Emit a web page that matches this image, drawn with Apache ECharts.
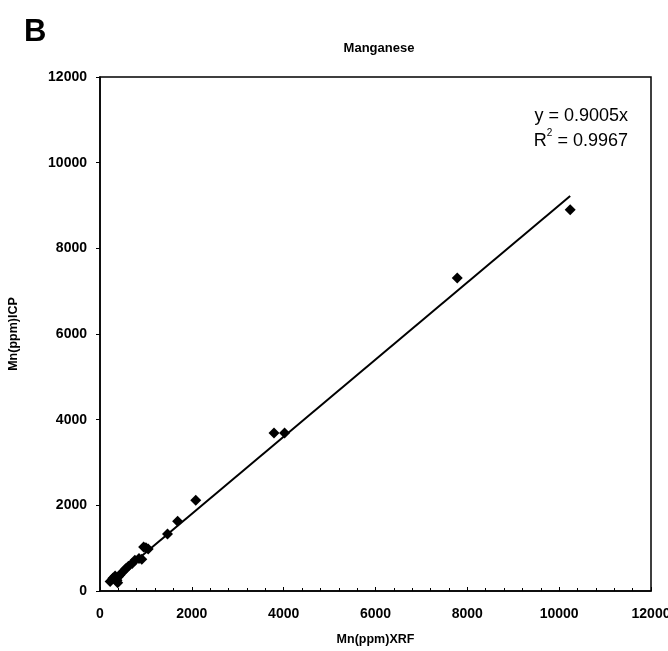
<!DOCTYPE html>
<html>
<head>
<meta charset="utf-8">
<script src="https://cdn.jsdelivr.net/npm/echarts@6/dist/echarts.min.js"></script>
<style>
  html, body { margin: 0; padding: 0; background: #fff; }
  #chart { width: 668px; height: 651px; }
</style>
</head>
<body>
<div id="chart"></div>
<script>
// XRF vs ICP, Mn (ppm)
var xrf = [220, 280, 330, 370, 385, 400, 440, 500, 560, 620, 700, 760, 850, 910, 950, 1000, 1050, 1470, 1690, 2085, 3790, 4020, 7780, 10240]
var icp = [220, 300, 350, 250, 190, 330, 380, 450, 520, 580, 640, 720, 760, 740, 1030, 1010, 980, 1330, 1630, 2120, 3690, 3690, 7310, 8900]
var slope = 0.9005
var r2 = 0.9967

var font = 'Liberation Sans, Arial, sans-serif'

var points = xrf.map(function (x, i) {
  return [x, icp[i]]
})
var xMin = Math.min.apply(null, xrf)
var xMax = Math.max.apply(null, xrf)
var fitLine = [[xMin, slope * xMin], [xMax, slope * xMax]]

var myChart = echarts.init(document.getElementById('chart'))

var option = {
  backgroundColor: '#fff',
  animation: false,
  title: [
    {
      text: 'B',
      left: 19,
      top: 12,
      textStyle: { fontFamily: font, fontSize: 31, fontWeight: 'bold', color: '#000' }
    },
    {
      text: 'Manganese',
      left: 374,
      top: 37,
      textAlign: 'center',
      textStyle: { fontFamily: font, fontSize: 13, fontWeight: 'bold', color: '#000' }
    }
  ],
  grid: {
    left: 100,
    right: 17,
    top: 77,
    bottom: 60,
    outerBoundsMode: 'none',
    containLabel: false,
    show: true,
    borderColor: '#000',
    borderWidth: 1.5
  },
  xAxis: {
    type: 'value',
    min: 0,
    max: 12000,
    interval: 2000,
    name: 'Mn(ppm)XRF',
    nameLocation: 'middle',
    nameGap: 42,
    nameTextStyle: { fontFamily: font, fontSize: 12.5, fontWeight: 'bold', color: '#000' },
    axisLine: { lineStyle: { color: '#000', width: 1.5 } },
    axisTick: { show: true, length: 4, inside: true, lineStyle: { color: '#000' } },
    minorTick: { show: true, splitNumber: 5, length: 3, lineStyle: { color: '#000' } },
    axisLabel: {
      fontFamily: font, fontSize: 14, fontWeight: 'bold', color: '#000', margin: 16,
      formatter: function (v) { return String(v) }
    },
    splitLine: { show: false }
  },
  yAxis: {
    type: 'value',
    min: 0,
    max: 12000,
    interval: 2000,
    name: 'Mn(ppm)ICP',
    nameLocation: 'middle',
    nameGap: 80,
    nameTextStyle: { fontFamily: font, fontSize: 12.5, fontWeight: 'bold', color: '#000' },
    axisLine: { lineStyle: { color: '#000', width: 1.5 } },
    axisTick: { show: true, length: 4, lineStyle: { color: '#000' } },
    axisLabel: {
      fontFamily: font, fontSize: 14, fontWeight: 'bold', color: '#000', margin: 13,
      formatter: function (v) { return String(v) }
    },
    splitLine: { show: false }
  },
  graphic: [
    {
      type: 'text',
      right: 40,
      top: 107,
      style: {
        text: 'y = ' + slope + 'x',
        font: '18px ' + font,
        fill: '#000'
      }
    },
    {
      type: 'text',
      right: 40,
      top: 128,
      style: {
        text: '{b|R}{s|2}{b| = ' + r2 + '}',
        rich: {
          b: { fontSize: 18, fontFamily: font, fill: '#000', verticalAlign: 'bottom', lineHeight: 22 },
          s: { fontSize: 10, fontFamily: font, fill: '#000', verticalAlign: 'top', lineHeight: 18 }
        }
      }
    }
  ],
  series: [
    {
      type: 'line',
      data: fitLine,
      symbol: 'none',
      lineStyle: { color: '#000', width: 2 },
      z: 2
    },
    {
      type: 'scatter',
      data: points,
      symbol: 'diamond',
      symbolSize: 11,
      itemStyle: { color: '#000', opacity: 1 },
      z: 3
    }
  ]
}

myChart.setOption(option)
</script>
</body>
</html>
